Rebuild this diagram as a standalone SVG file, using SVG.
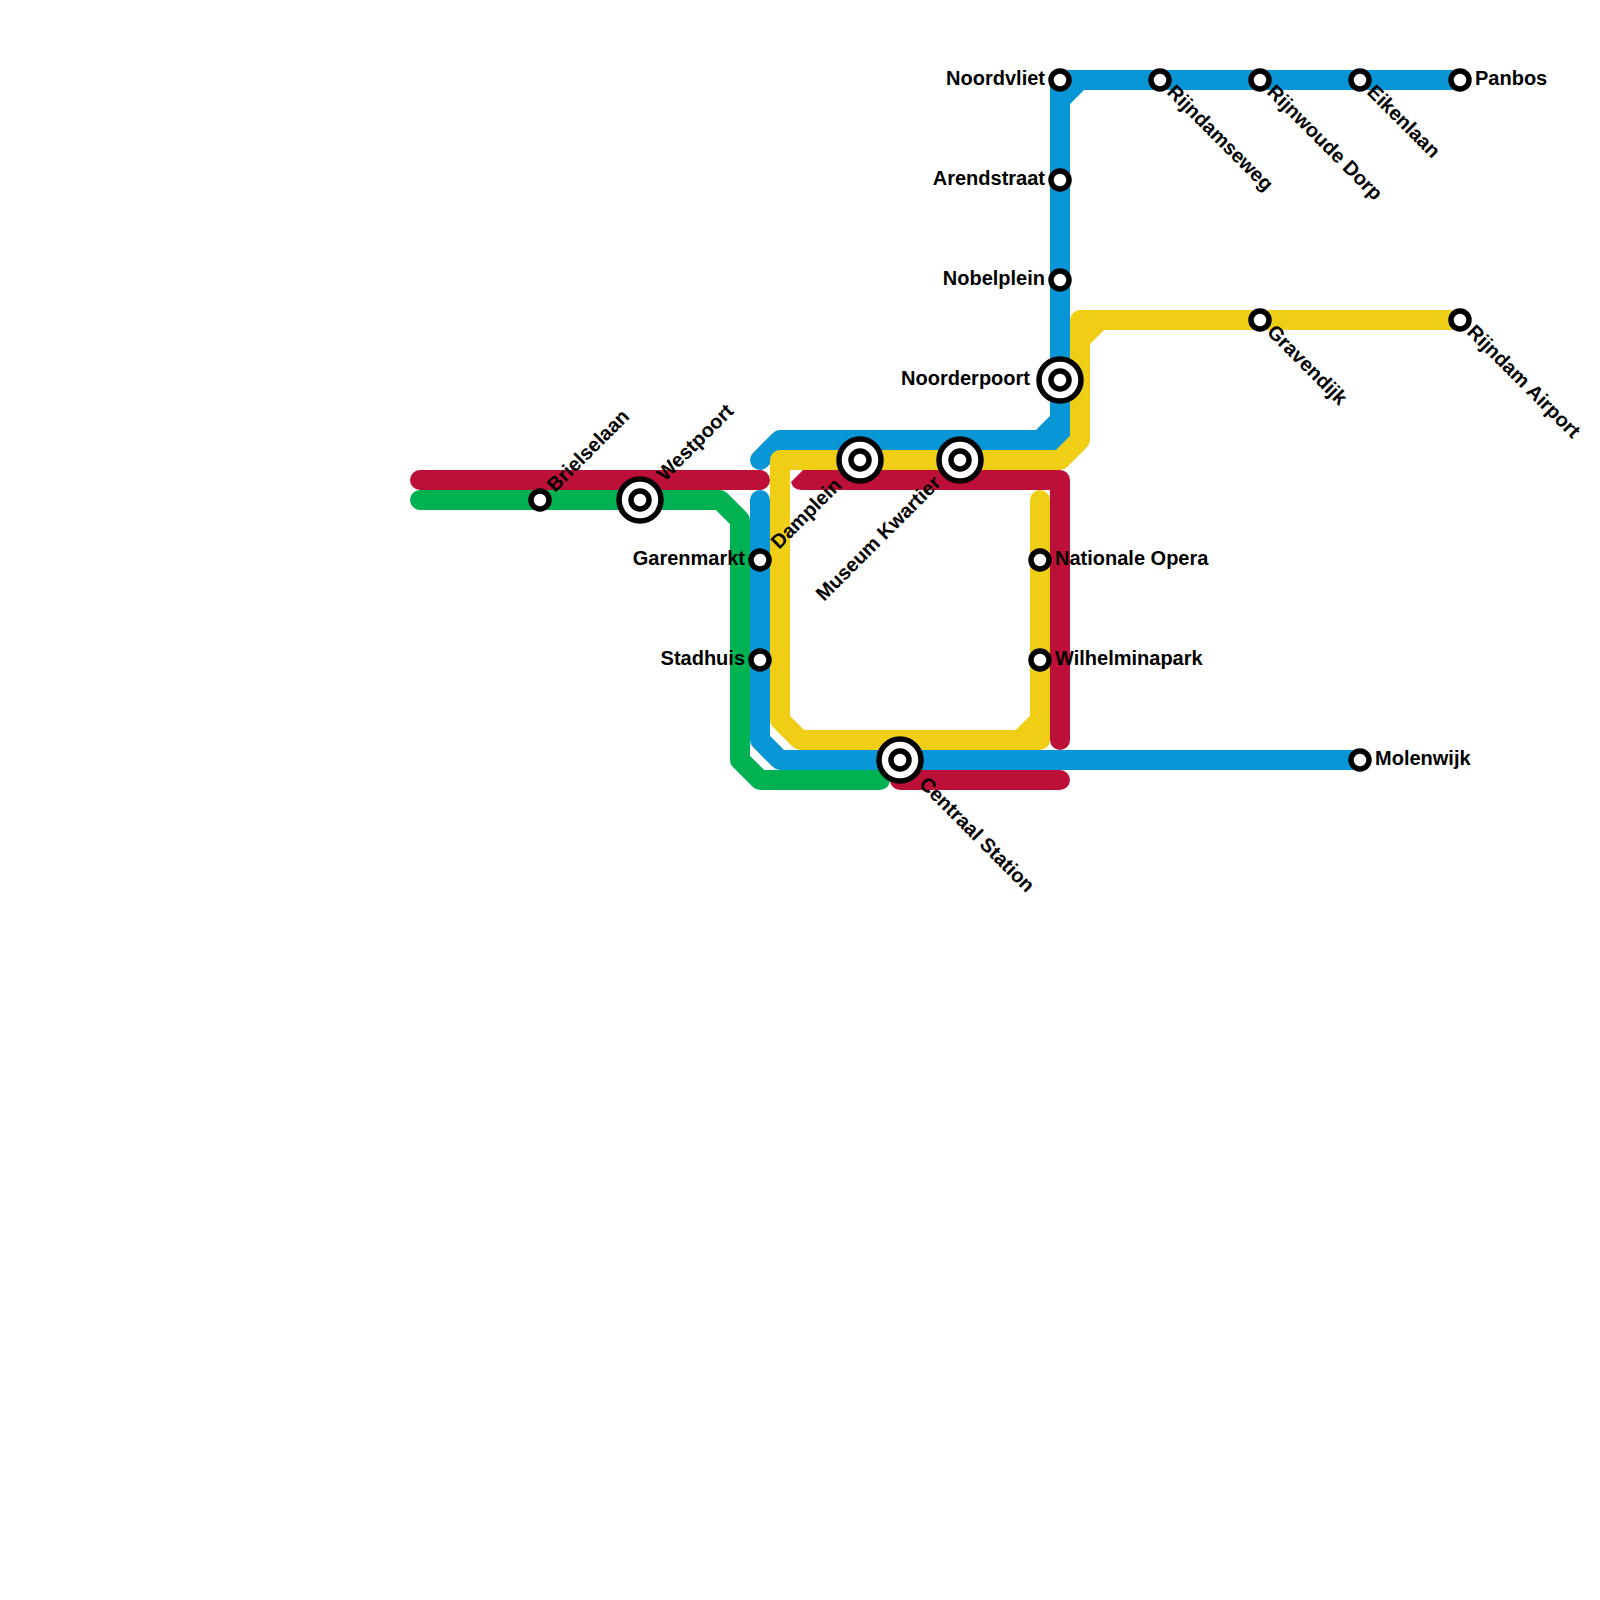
<svg xmlns="http://www.w3.org/2000/svg" width="1600" height="1600" viewBox="0 0 1600 1600">
<style>
.l{fill:none;stroke-width:20;stroke-linecap:round;stroke-linejoin:round}
.s{fill:#fff;stroke:#000;stroke-width:5.5}
text{font-family:"Liberation Sans",Arial,sans-serif;font-size:20px;font-weight:700;fill:#000}
.e{text-anchor:end}
</style>
<defs>
<g id="st"><circle class="s" r="9"/></g>
<g id="ic"><circle class="s" r="21"/><circle class="s" r="9"/></g>
</defs>
<rect width="1600" height="1600" fill="#fff"/>
<g id="connectors">
<path id="green" class="l" stroke="#00b251" d="M420,500H720L740,520V760L760,780H880"/>
<path id="blue" class="l" stroke="#0896d7" d="M1460,80H1060V440H780L760,460M1060,100L1080,80M1060,420L1040,440M760,500V740L780,760H1360"/>
<path id="red" class="l" stroke="#bd1038" d="M420,480H760M812,480H1060V740M900,780H1060"/>
<path id="red-end" fill="#bd1038" d="M803,470L791,482Q793,490 802,490H815V470Z"/>
<path id="yellow" class="l" stroke="#f0ce15" d="M1460,320H1080V440L1060,460H780V720L800,740H1040V500M1040,720L1020,740M1080,340L1100,320"/>
</g>
<g id="n-noordvliet"><use href="#st" x="1060" y="80"/><text class="e" x="1045" y="85">Noordvliet</text></g>
<g id="n-arendstraat"><use href="#st" x="1060" y="180"/><text class="e" x="1045" y="185">Arendstraat</text></g>
<g id="n-nobelplein"><use href="#st" x="1060" y="280"/><text class="e" x="1045" y="285">Nobelplein</text></g>
<g id="n-noorderpoort"><use href="#ic" x="1060" y="380"/><text class="e" x="1030" y="385">Noorderpoort</text></g>
<g id="n-rijndamseweg"><use href="#st" x="1160" y="80"/><text transform="translate(1166,93) rotate(45)">Rijndamseweg</text></g>
<g id="n-rijnwoude"><use href="#st" x="1260" y="80"/><text transform="translate(1266,93) rotate(45)">Rijnwoude Dorp</text></g>
<g id="n-eikenlaan"><use href="#st" x="1360" y="80"/><text transform="translate(1366,93) rotate(45)">Eikenlaan</text></g>
<g id="n-panbos"><use href="#st" x="1460" y="80"/><text x="1475" y="85">Panbos</text></g>
<g id="n-gravendijk"><use href="#st" x="1260" y="320"/><text transform="translate(1266,333) rotate(45)">Gravendijk</text></g>
<g id="n-airport"><use href="#st" x="1460" y="320"/><text transform="translate(1466,333) rotate(45)">Rijndam Airport</text></g>
<g id="n-molenwijk"><use href="#st" x="1360" y="760"/><text x="1375" y="765">Molenwijk</text></g>
<g id="n-centraal"><use href="#ic" x="900" y="760"/><text transform="translate(918,785) rotate(45)">Centraal Station</text></g>
<g id="n-opera"><use href="#st" x="1040" y="560"/><text x="1055" y="565">Nationale Opera</text></g>
<g id="n-wilhelmina"><use href="#st" x="1040" y="660"/><text x="1055" y="665">Wilhelminapark</text></g>
<g id="n-garenmarkt"><use href="#st" x="760" y="560"/><text class="e" x="745" y="565">Garenmarkt</text></g>
<g id="n-stadhuis"><use href="#st" x="760" y="660"/><text class="e" x="745" y="665">Stadhuis</text></g>
<g id="n-damplein"><use href="#ic" x="860" y="460"/><text transform="translate(779,550) rotate(-45)">Damplein</text></g>
<g id="n-museum"><use href="#ic" x="960" y="460"/><text transform="translate(824,602) rotate(-45)">Museum Kwartier</text></g>
<g id="n-brielselaan"><use href="#st" x="540" y="500"/><text transform="translate(555,493) rotate(-45)">Brielselaan</text></g>
<g id="n-westpoort"><use href="#ic" x="640" y="500"/><text transform="translate(665,482) rotate(-45)">Westpoort</text></g>
</svg>
